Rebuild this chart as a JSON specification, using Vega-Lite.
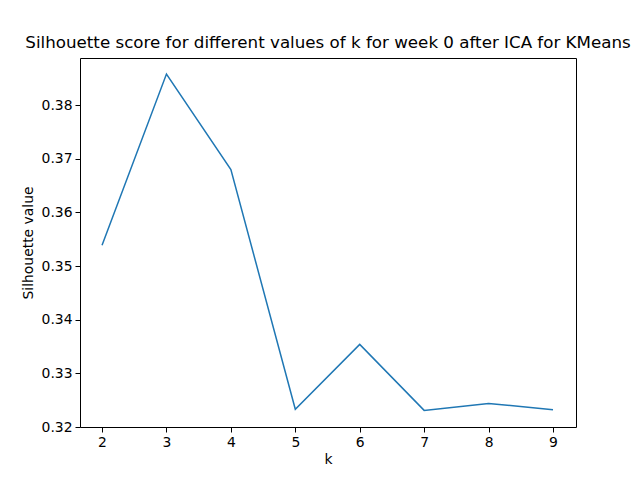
{
  "$schema": "https://vega.github.io/schema/vega-lite/v6.json",
  "width": 496,
  "height": 369,
  "autosize": {"type": "none"},
  "padding": {"left": 80, "top": 58, "right": 64, "bottom": 53},
  "title": {"text": "Silhouette score for different values of k for week 0 after ICA for KMeans", "font": "DejaVu Sans", "fontSize": 16.7, "fontWeight": "normal", "offset": 6, "color": "#000"},
  "config": {"view": {"stroke": "#000", "strokeWidth": 1}, "axis": {"labelFont": "DejaVu Sans", "titleFont": "DejaVu Sans", "labelFontSize": 13.9, "titleFontSize": 13.9, "titleFontWeight": "normal", "grid": false, "domain": false, "tickColor": "#000", "labelColor": "#000", "titleColor": "#000", "tickSize": 5}},
  "data": {"values": [
    {"k": 2, "s": 0.3539}, {"k": 3, "s": 0.3858}, {"k": 4, "s": 0.3680},
    {"k": 5, "s": 0.3233}, {"k": 6, "s": 0.3354}, {"k": 7, "s": 0.3231},
    {"k": 8, "s": 0.3244}, {"k": 9, "s": 0.3232}
  ]},
  "mark": {"type": "line", "color": "#1f77b4", "strokeWidth": 1.5, "clip": true},
  "encoding": {
    "x": {"field": "k", "type": "quantitative", "title": "k", "scale": {"domain": [1.658, 9.357], "nice": false, "zero": false}, "axis": {"values": [2,3,4,5,6,7,8,9], "format": "d", "labelPadding": 3, "titlePadding": 4}},
    "y": {"field": "s", "type": "quantitative", "title": "Silhouette value", "scale": {"domain": [0.32, 0.3888], "nice": false, "zero": false}, "axis": {"values": [0.32,0.33,0.34,0.35,0.36,0.37,0.38], "format": ".2f", "labelPadding": 3, "titlePadding": 6}}
  }
}
